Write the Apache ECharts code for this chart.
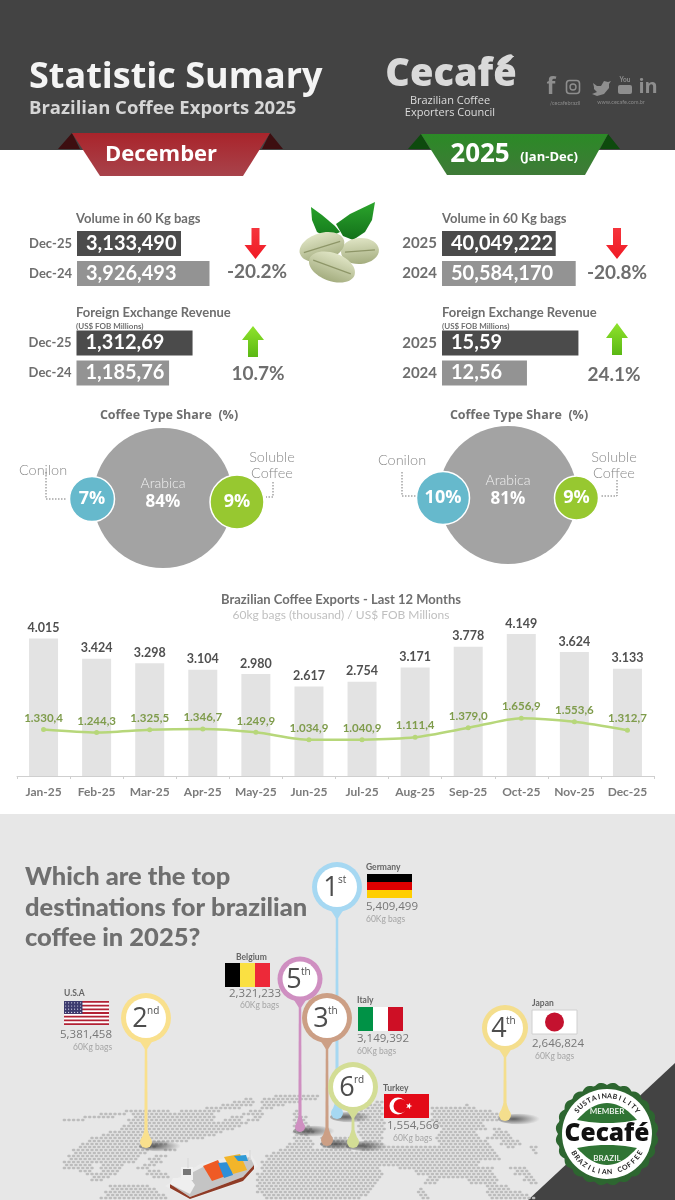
<!DOCTYPE html>
<html>
<head>
<meta charset="utf-8">
<title>Statistic Sumary</title>
<script src="https://cdn.jsdelivr.net/npm/echarts@6/dist/echarts.min.js"></script>
<style>
  html, body { margin: 0; padding: 0; background: #fff; }
  #chart { width: 675px; height: 1200px; }
</style>
</head>
<body>
<div id="chart"></div>
<script>
// last 12 months
const months = ['Jan-25', 'Feb-25', 'Mar-25', 'Apr-25', 'May-25', 'Jun-25', 'Jul-25', 'Aug-25', 'Sep-25', 'Oct-25', 'Nov-25', 'Dec-25'];
const monthlyBags = [4015, 3424, 3298, 3104, 2980, 2617, 2754, 3171, 3778, 4149, 3624, 3133];
const monthlyRevenue = [1330.4, 1244.3, 1325.5, 1346.7, 1249.9, 1034.9, 1040.9, 1111.4, 1379.0, 1656.9, 1553.6, 1312.7];

// headline numbers
const decPeriods = ['Dec-25', 'Dec-24'];
const yearPeriods = ['2025', '2024'];
const decVolume = [3133490, 3926493];
const decVolumeLabels = ['3,133,490', '3,926,493'];
const decRevenue = [1312.69, 1185.76];
const decRevenueLabels = ['1,312,69', '1,185,76'];
const yearVolume = [40049222, 50584170];
const yearVolumeLabels = ['40,049,222', '50,584,170'];
const yearRevenue = [15.59, 12.56];
const yearRevenueLabels = ['15,59', '12,56'];

// coffee type share (%)
const shareTypes = ['Arabica', 'Conilon', 'Soluble Coffee'];
const decShare = [84, 7, 9];
const yearShare = [81, 10, 9];

// top destinations
const destinations = ['Germany', 'U.S.A', 'Italy', 'Japan', 'Belgium', 'Turkey'];
const destinationBags = ['5,409,499', '5,381,458', '3,149,392', '2,646,824', '2,321,233', '1,554,566'];
const destinationRanks = ['1', '2', '3', '4', '5', '6'];
const rankSuffix = ['st', 'nd', 'th', 'th', 'th', 'rd'];

const SANS = 'Lato, "Noto Sans", sans-serif';
const OPEN = '"Open Sans", "Noto Sans", sans-serif';
const G = echarts.graphic;

function T(x, y, text, size, color, opt) {
  opt = opt || {};
  return {
    type: 'text', x: x, y: y, rotation: opt.rotation || 0, z: opt.z || 0,
    style: {
      text: text, fontSize: size, fontWeight: opt.weight || 'normal', fontFamily: opt.family || SANS,
      fill: color, align: opt.align || 'left', verticalAlign: 'middle'
    }
  };
}
function poly(points, fill, z) { return { type: 'polygon', z: z || 0, shape: { points: points }, style: { fill: fill } }; }
function rect(x, y, w, h, fill, z) { return { type: 'rect', z: z || 0, shape: { x: x, y: y, width: w, height: h }, style: { fill: fill } }; }
function circle(cx, cy, r, fill, z) { return { type: 'circle', z: z || 0, shape: { cx: cx, cy: cy, r: r }, style: { fill: fill } }; }
function ellipse(cx, cy, rx, ry, fill, rot, z) {
  return { type: 'ellipse', z: z || 0, x: cx, y: cy, rotation: rot || 0, shape: { cx: 0, cy: 0, rx: rx, ry: ry }, style: { fill: fill } };
}
function dotted(points) {
  return { type: 'polyline', shape: { points: points }, style: { stroke: '#777', lineWidth: 1, lineDash: [1.5, 1.5], fill: null } };
}
function vgrad(a, b) { return new G.LinearGradient(0, 0, 0, 1, [{ offset: 0, color: a }, { offset: 1, color: b }]); }
// lens shape for the green bands of the badge
function lens(x0, x1, yEnd, yTop, yBottom, fill) {
  const pts = [];
  for (let t = 0; t <= 1; t += 0.05) pts.push([x0 + (x1 - x0) * t, yEnd + (yTop - yEnd) * 4 * t * (1 - t)]);
  for (let t = 1; t >= 0; t -= 0.05) pts.push([x0 + (x1 - x0) * t, yEnd + (yBottom - yEnd) * 4 * t * (1 - t)]);
  return poly(pts, fill);
}

const els = [];

// ---- page background
els.push(rect(0, 0, 675, 150, '#434343'));
els.push(rect(0, 814, 675, 386, '#e7e7e7'));
els.push(poly([[675, 1063], [675, 1200], [528, 1200]], '#434343'));

// ---- header
els.push(T(29, 78, 'Statistic Sumary', 36, '#f4f4f4', { weight: 'bold', family: OPEN }));
els.push(T(29, 109, 'Brazilian Coffee Exports 2025', 18.5, '#d6d6d6', { weight: 'bold', family: OPEN }));
els.push(T(451, 75, 'Cecafé', 38, '#d9d9d9', { weight: 800, family: OPEN, align: 'center' }));
els.push(ellipse(505, 60, 9, 3.5, '#d9d9d9', 0.6));
els.push(T(450, 101, 'Brazilian Coffee', 11, '#dcdcdc', { align: 'center', family: OPEN }));
els.push(T(450, 113, 'Exporters Council', 11, '#dcdcdc', { align: 'center', family: OPEN }));
const socialColor = '#8e8e8e';
els.push(T(551, 87, 'f', 23, socialColor, { weight: 'bold', align: 'center', family: OPEN }));
els.push({ type: 'rect', shape: { x: 566.5, y: 80.5, width: 13, height: 13, r: 3 }, style: { fill: null, stroke: socialColor, lineWidth: 1.6 } });
els.push({ type: 'circle', shape: { cx: 573, cy: 87, r: 3 }, style: { fill: null, stroke: socialColor, lineWidth: 1.4 } });
els.push(poly([[593, 83], [597, 86], [601, 86], [604, 81], [608, 82], [611, 81], [609, 84], [609, 88], [604, 94], [597, 96], [592, 94], [597, 92], [594, 89], [594, 87]], socialColor));
els.push(T(625, 80, 'You', 6.5, socialColor, { weight: 'bold', align: 'center' }));
els.push({ type: 'rect', shape: { x: 618, y: 85, width: 14, height: 9, r: 2 }, style: { fill: socialColor } });
els.push(T(648, 87, 'in', 20, socialColor, { weight: 'bold', align: 'center', family: OPEN }));
els.push(T(565, 103, '/cecafebrazil', 5.5, '#8a8a8a', { align: 'center' }));
els.push(T(621, 102, 'www.cecafe.com.br', 5.5, '#8a8a8a', { align: 'center' }));

// ---- ribbons
els.push(poly([[58, 149], [72, 133], [80, 149]], '#3d0e10'));
els.push(poly([[283, 149], [270, 133], [262, 149]], '#3d0e10'));
els.push(poly([[72, 133], [270, 133], [243, 176], [100, 176]], vgrad('#a9242b', '#a8434b')));
els.push(T(161, 155, 'December', 22, '#fff', { weight: 'bold', align: 'center', family: OPEN }));
els.push(poly([[408, 149], [421, 134], [430, 149]], '#0d4a0d'));
els.push(poly([[620, 149], [608, 134], [600, 149]], '#0d4a0d'));
els.push(poly([[421, 134], [608, 134], [585, 175], [447, 175]], vgrad('#2b8a26', '#3f7a38')));
els.push(T(480, 155, '2025', 26, '#fff', { weight: 'bold', align: 'center', family: OPEN }));
els.push(T(549, 157, '(Jan-Dec)', 13, '#fff', { weight: 'bold', align: 'center', family: OPEN }));

// ---- KPI titles, arrows, percentages
const titleColor = '#6e6e6e';
[76, 442].forEach(function (x) {
  els.push(T(x, 219, 'Volume in 60 Kg bags', 13, titleColor, { weight: 'bold' }));
  els.push(T(x, 313, 'Foreign Exchange Revenue', 13, titleColor, { weight: 'bold' }));
  els.push(T(x, 326, '(US$ FOB Millions)', 8, titleColor, { weight: 'bold' }));
});
function arrowDown(cx) {
  return poly([[cx - 4, 228], [cx + 4, 228], [cx + 4, 245], [cx + 11, 245], [cx, 259], [cx - 11, 245], [cx - 4, 245]], vgrad('#f5343c', '#f01a25'));
}
function arrowUp(cx, top, base, bottom) {
  return poly([[cx, top], [cx + 11, base], [cx + 5, base], [cx + 5, bottom], [cx - 5, bottom], [cx - 5, base], [cx - 11, base]], vgrad('#8fe32c', '#5bb814'));
}
els.push(arrowDown(255.5), arrowDown(617), arrowUp(253, 326, 340, 357), arrowUp(617, 323, 338, 355));
els.push(T(257, 272, '-20.2%', 19, titleColor, { weight: 'bold', align: 'center' }));
els.push(T(258, 374, '10.7%', 19, titleColor, { weight: 'bold', align: 'center' }));
els.push(T(617, 273, '-20.8%', 19, titleColor, { weight: 'bold', align: 'center' }));
els.push(T(614, 375, '24.1%', 19, titleColor, { weight: 'bold', align: 'center' }));

// ---- coffee beans
els.push(poly([[311, 207], [322, 215], [335, 226], [340, 232], [328, 238], [317, 232], [312, 220]], vgrad('#27a02a', '#157a1c')));
els.push(poly([[375, 202], [372, 220], [365, 232], [353, 240], [343, 236], [336, 224], [350, 214]], vgrad('#2ba52c', '#13701a')));
function bean(cx, cy, rx, ry, rot) {
  els.push(ellipse(cx, cy, rx, ry, vgrad('#dfe4c4', '#a4ad7f'), rot));
  els.push({ type: 'line', x: cx, y: cy, rotation: rot, shape: { x1: -rx + 4, y1: 0, x2: rx - 4, y2: 0 }, style: { stroke: '#8e9668', lineWidth: 1.2 } });
}
bean(360, 251, 19, 13, 0.08);
bean(322, 247, 23, 14, 0.3);
bean(332, 267, 24, 14, -0.35);

// ---- coffee type share
els.push(T(169, 415, 'Coffee Type Share  (%)', 12.5, titleColor, { weight: 'bold', align: 'center', family: OPEN }));
els.push(T(519, 415, 'Coffee Type Share  (%)', 12.5, titleColor, { weight: 'bold', align: 'center', family: OPEN }));
const thinColor = '#8a8a8a';
const thin = { align: 'center', weight: 300 };
els.push(T(43, 470, 'Conilon', 14.5, thinColor, thin));
els.push(T(272, 457, 'Soluble', 14.5, thinColor, thin));
els.push(T(272, 473, 'Coffee', 14.5, thinColor, thin));
els.push(T(402, 460, 'Conilon', 14.5, thinColor, thin));
els.push(T(614, 457, 'Soluble', 14.5, thinColor, thin));
els.push(T(614, 473, 'Coffee', 14.5, thinColor, thin));
els.push(dotted([[46, 472], [46, 499], [67, 499]]));
els.push(dotted([[273, 482], [273, 497], [266, 497]]));
els.push(dotted([[402, 472], [402, 496], [417, 496]]));
els.push(dotted([[617, 480], [617, 496], [600, 496]]));

// ---- monthly chart heading
els.push(T(341, 600, 'Brazilian Coffee Exports - Last 12 Months', 13, '#6f6f6f', { weight: 'bold', align: 'center' }));
els.push(T(341, 615, '60kg bags (thousand) / US$ FOB Millions', 12, '#c0c0c0', { align: 'center' }));

// ---- destinations heading
['Which are the top', 'destinations for brazilian', 'coffee in 2025?'].forEach(function (line, i) {
  els.push(T(25, 877 + i * 30.5, line, 25.5, '#6f6f6f', { weight: 900 }));
});

// ---- dotted world map: [row y, [from, to], [from, to] ...]
const mapRows = [
  [1096, [275, 320]],
  [1099, [240, 252], [258, 318]],
  [1102, [232, 256], [262, 300], [377, 384]],
  [1105, [218, 252], [262, 285], [357, 384], [463, 470]],
  [1108, [205, 240], [262, 272], [357, 384], [430, 477]],
  [1111, [120, 170], [178, 222], [244, 262], [290, 300], [357, 384], [430, 490]],
  [1114, [100, 125], [130, 215], [240, 265], [290, 302], [357, 384], [430, 497]],
  [1117, [80, 115], [130, 218], [228, 245], [250, 262], [290, 306], [357, 384], [430, 503]],
  [1120, [63, 85], [125, 215], [222, 240], [246, 258], [291, 308], [357, 384], [432, 500]],
  [1123, [128, 248], [292, 310], [357, 386], [433, 483]],
  [1126, [122, 240], [292, 312], [358, 386], [435, 485]],
  [1129, [118, 235], [292, 314], [358, 386], [437, 487], [490, 503]],
  [1132, [108, 225], [292, 314], [358, 384], [440, 478], [493, 510]],
  [1135, [100, 215], [293, 307], [358, 384], [436, 480], [490, 512]],
  [1138, [92, 205], [292, 310], [322, 350], [362, 384], [433, 483], [487, 513]],
  [1141, [87, 190], [290, 313], [318, 350], [360, 384], [436, 486], [497, 522]],
  [1144, [82, 170], [288, 313], [320, 350], [360, 386], [437, 490], [498, 524]],
  [1147, [78, 155], [283, 313], [322, 350], [360, 490], [503, 517], [527, 537]],
  [1150, [73, 150], [165, 175], [280, 350], [360, 493], [530, 538]],
  [1153, [70, 146], [270, 497], [530, 540]],
  [1156, [68, 142], [155, 168], [266, 500]],
  [1159, [65, 140], [147, 160], [263, 503]],
  [1162, [62, 135], [150, 162], [262, 483]],
  [1165, [60, 92], [98, 125], [140, 155], [261, 480]],
  [1168, [62, 93], [97, 123], [137, 150], [260, 380], [397, 493], [510, 527]],
  [1171, [75, 92], [100, 118], [143, 160], [258, 382], [410, 493], [513, 528]],
  [1174, [87, 117], [143, 170], [256, 384], [417, 494], [515, 530]],
  [1177, [90, 112], [150, 170], [254, 384], [427, 497], [520, 532]],
  [1180, [90, 103], [253, 380], [425, 440], [467, 497], [522, 534]],
  [1183, [253, 375], [420, 436], [467, 497], [527, 537]],
  [1186, [110, 150], [253, 374], [483, 507]],
  [1189, [108, 155], [253, 372], [416, 424], [483, 510]],
  [1192, [104, 160], [255, 370], [417, 424], [487, 520]],
  [1195, [102, 165], [260, 366], [418, 426], [487, 528]],
  [1198, [100, 167], [263, 362], [420, 428], [490, 535]]
];
mapRows.forEach(function (row, i) {
  const shift = i % 2 ? 2.3 : 0;
  const y = row[0];
  row.slice(1).forEach(function (span) {
    // each dot sits on the same 4.6px lattice so the spans line up
    for (let x = Math.ceil(span[0] / 4.6) * 4.6 + shift; x <= span[1]; x += 4.6) {
      els.push(poly([[x - 2, y], [x - 1, y - 1.2], [x + 1, y - 1.2], [x + 2, y], [x + 1, y + 1.2], [x - 1, y + 1.2]], '#bcbcbc'));
    }
  });
});

// ---- ship
els.push(poly([[165, 1186], [200, 1164], [250, 1152], [258, 1166], [243, 1182], [190, 1200]], '#ececec'));
els.push(poly([[170, 1184], [203, 1167], [250, 1157], [254, 1165], [243, 1177], [190, 1197]], '#c4c4c4'));
els.push(poly([[170, 1184], [190, 1197], [243, 1177], [254, 1165], [254, 1169], [243, 1181], [190, 1199], [170, 1188]], '#8f3b26'));
els.push(poly([[170, 1184], [173, 1178], [190, 1178], [195, 1185], [190, 1194]], '#efefef'));
els.push(rect(181, 1167, 12, 13, '#f0f0f0'));
els.push(rect(183, 1169, 8, 6, '#777'));
els.push(poly([[203, 1166], [218, 1160], [226, 1176], [212, 1181]], '#ef5a24'));
els.push(poly([[218, 1163], [230, 1162], [233, 1175], [224, 1178]], '#2f8fd8'));
els.push(poly([[224, 1157], [240, 1154], [247, 1170], [233, 1174]], '#f2b52a'));
els.push(poly([[234, 1156], [246, 1155], [248, 1161], [238, 1161]], '#2f9ad6'));
els.push({ type: 'line', shape: { x1: 188, y1: 1158, x2: 188, y2: 1168 }, style: { stroke: '#ddd', lineWidth: 1.5 } });
els.push({ type: 'line', shape: { x1: 250, y1: 1150, x2: 250, y2: 1160 }, style: { stroke: '#ddd', lineWidth: 1.5 } });

// ---- flags
function flagGermany(x, y, w, h) {
  return [rect(x, y, w, h / 3, '#000'), rect(x, y + h / 3, w, h / 3, '#dd0000'), rect(x, y + 2 * h / 3, w, h / 3, '#ffce00')];
}
function flagBelgium(x, y, w, h) {
  return [rect(x, y, w / 3, h, '#000'), rect(x + w / 3, y, w / 3, h, '#fae042'), rect(x + 2 * w / 3, y, w / 3, h, '#ed2939')];
}
function flagItaly(x, y, w, h) {
  return [rect(x, y, w / 3, h, '#009246'), rect(x + w / 3, y, w / 3, h, '#fff'), rect(x + 2 * w / 3, y, w / 3, h, '#ce0f25')];
}
function flagUsa(x, y, w, h) {
  const out = [rect(x, y, w, h, '#fff')];
  for (let i = 0; i < 7; i++) out.push(rect(x, y + i * 2 * h / 13, w, h / 13, '#b22234'));
  out.push(rect(x, y, w * 0.41, h * 7 / 13, '#3c3b6e'));
  for (let r = 0; r < 4; r++) for (let c = 0; c < 6; c++) out.push(circle(x + 1.6 + c * 3, y + 1.8 + r * 3.2, 0.6, '#d8d8ea'));
  return out;
}
function flagJapan(x, y, w, h) {
  const bg = rect(x, y, w, h, '#fff');
  bg.style.stroke = '#d0d0d0';
  return [bg, circle(x + w / 2, y + h / 2, 9.5, '#c4122f')];
}
function flagTurkey(x, y, w, h) {
  const star = [];
  for (let i = 0; i < 10; i++) {
    const a = i * Math.PI / 5, r = i % 2 ? 1.4 : 3.4;
    star.push([x + 25 + r * Math.cos(a), y + h / 2 + r * Math.sin(a)]);
  }
  return [rect(x, y, w, h, '#e30a17'), circle(x + 14, y + h / 2, 8.5, '#fff'), circle(x + 16.5, y + h / 2, 7, '#e30a17'), poly(star, '#fff')];
}

// ---- pins, in drawing order (later ones overlap earlier ones)
const pinLayout = {
  '1': { x: 337, y: 887, r: 25, dropY: 1113, dropR: 6, color: '#a6d8f2', flag: flagGermany, fx: 367, fy: 874, nameX: 366, nameY: 867, valX: 366, valY: 907, bagX: 366, bagY: 919 },
  '2': { x: 146, y: 1018, r: 25, dropY: 1142, dropR: 6, color: '#f9e08d', flag: flagUsa, fx: 64, fy: 1001, nameX: 64, nameY: 993, valX: 60, valY: 1035, bagX: 73, bagY: 1047 },
  '5': { x: 300, y: 979, r: 22.5, dropY: 1127, dropR: 5, color: '#cf8fc1', flag: flagBelgium, fx: 225, fy: 963, nameX: 236, nameY: 957, valX: 229, valY: 993.5, bagX: 240, bagY: 1005 },
  '3': { x: 327, y: 1018, r: 25, dropY: 1140, dropR: 6, color: '#cc9f85', flag: flagItaly, fx: 358, fy: 1007, nameX: 357, nameY: 1000, valX: 357, valY: 1039, bagX: 357, bagY: 1051 },
  '6': { x: 353, y: 1087, r: 25, dropY: 1142, dropR: 6, color: '#d3dd95', flag: flagTurkey, fx: 384, fy: 1094, nameX: 383, nameY: 1088, valX: 387, valY: 1126, bagX: 393, bagY: 1138 },
  '4': { x: 505, y: 1028, r: 23, dropY: 1115, dropR: 6, color: '#f4de8d', flag: flagJapan, fx: 532, fy: 1010, nameX: 532, nameY: 1003, valX: 532, valY: 1044, bagX: 535, bagY: 1056 }
};
['1', '2', '5', '3', '6', '4'].forEach(function (rank) {
  const i = destinationRanks.indexOf(rank);
  const p = pinLayout[rank];
  // shadow on the map
  els.push({
    type: 'circle', x: p.x + 15, y: p.dropY + 4, scaleY: 0.24, shape: { cx: 0, cy: 0, r: 22 },
    style: { fill: new G.RadialGradient(0.35, 0.5, 0.6, [{ offset: 0, color: 'rgba(50,50,50,0.75)' }, { offset: 1, color: 'rgba(50,50,50,0)' }]) }
  });
  els.push(poly([[p.x - 1.2, p.y + p.r - 2], [p.x + 1.2, p.y + p.r - 2], [p.x + 1.6, p.dropY - p.dropR], [p.x - 1.6, p.dropY - p.dropR]], p.color));
  els.push(poly([[p.x - 1.3, p.dropY - p.dropR - 6], [p.x + 1.3, p.dropY - p.dropR - 6], [p.x + p.dropR - 1, p.dropY - 2], [p.x - p.dropR + 1, p.dropY - 2]], p.color));
  els.push(circle(p.x, p.dropY, p.dropR, p.color));
  els.push(circle(p.x, p.y, p.r, p.color));
  els.push(poly([[p.x - 7, p.y + p.r - 3], [p.x + 7, p.y + p.r - 3], [p.x + 1.2, p.y + p.r + 6], [p.x - 1.2, p.y + p.r + 6]], p.color));
  els.push(circle(p.x, p.y, p.r - 5, '#fff'));
  els.push(T(p.x - 6, p.y + 1, rank, 27, '#4d4d4d', { align: 'center', family: OPEN }));
  els.push(T(p.x + 1, p.y - 7, rankSuffix[i], 10, '#4d4d4d', { family: OPEN }));
  p.flag(p.fx, p.fy, 45, 24).forEach(function (e) { els.push(e); });
  els.push(T(p.nameX, p.nameY, destinations[i], 8.5, '#666', { weight: 'bold' }));
  els.push(T(p.valX, p.valY, destinationBags[i], 11.5, '#777', { family: OPEN }));
  els.push(T(p.bagX, p.bagY, '60Kg bags', 8.5, '#a5a5a5'));
});

// ---- member badge
const bx = 607, by = 1134;
const scallop = [];
for (let d = 0; d < 360; d += 2) {
  const a = d * Math.PI / 180;
  const r = 49 + 2.5 * Math.abs(Math.sin(d * Math.PI / 15));
  scallop.push([bx + r * Math.sin(a), by - r * Math.cos(a)]);
}
els.push(poly(scallop, '#2d6630'));
els.push(circle(bx, by, 45, '#fff'));
els.push(lens(bx - 30, bx + 30, by - 14, by - 31, by - 11, '#2f7434'));
els.push(lens(bx - 30, bx + 30, by + 14, by + 11, by + 31, '#2f7434'));
els.push(T(bx, by - 23, 'MEMBER', 8, '#e8efe8', { weight: 'bold', align: 'center' }));
els.push(T(bx, by + 24, 'BRAZIL', 8, '#e8efe8', { weight: 'bold', align: 'center' }));
els.push(T(bx, by, 'Cecafé', 24.5, '#111', { weight: 800, align: 'center', family: OPEN }));
function arcText(text, radius, startDeg, stepDeg, bottom) {
  text.split('').forEach(function (ch, i) {
    const deg = startDeg + i * stepDeg;
    const a = deg * Math.PI / 180;
    const rot = bottom ? Math.PI - a : -a;
    els.push(T(bx + radius * Math.sin(a), by - radius * Math.cos(a), ch, 7, '#222', { weight: 'bold', align: 'center', rotation: rot }));
  });
}
arcText('SUSTAINABILITY', 38, -52, 8);
arcText('BRAZILIAN COFFEE', 38, 240, -8, true);

// ---- series and axes
function kpiGrid(left, top, width) { return { left: left, top: top, width: width, height: 60 }; }
const kpiSpec = [
  { grid: kpiGrid(77, 228.5, 140), cats: decPeriods, data: decVolume, labels: decVolumeLabels, min: 240000, max: 4135000, labelSize: 13 },
  { grid: kpiGrid(76.5, 328, 120), cats: decPeriods, data: decRevenue, labels: decRevenueLabels, min: 685.6, max: 1334, labelSize: 13 },
  { grid: kpiGrid(442, 228.5, 140), cats: yearPeriods, data: yearVolume, labels: yearVolumeLabels, min: 10600000, max: 54450000, type: 'log', labelSize: 15 },
  { grid: kpiGrid(442, 328, 140), cats: yearPeriods, data: yearRevenue, labels: yearRevenueLabels, min: 7.56, max: 15.8, labelSize: 15 }
];
const grids = [], xAxes = [], yAxes = [], series = [];
kpiSpec.forEach(function (k, i) {
  grids.push(k.grid);
  xAxes.push({ gridIndex: i, type: k.type || 'value', min: k.min, max: k.max, show: false });
  yAxes.push({
    gridIndex: i, type: 'category', data: k.cats, inverse: true,
    axisLine: { show: false }, axisTick: { show: false }, splitLine: { show: false },
    axisLabel: { margin: 5, fontSize: k.labelSize, fontWeight: 'bold', fontFamily: SANS, color: '#6e6e6e' }
  });
  series.push({
    type: 'bar', xAxisIndex: i, yAxisIndex: i, barWidth: 25, animation: false,
    data: k.data.map(function (v, n) { return { value: v, itemStyle: { color: n === 0 ? '#4b4b4b' : '#939393' } }; }),
    label: {
      show: true, position: 'insideLeft', distance: 9, color: '#fff', fontSize: 20, fontWeight: 'bold', fontFamily: SANS,
      formatter: function (p) { return k.labels[p.dataIndex]; }
    }
  });
});

// monthly chart
const MONTH = kpiSpec.length;
grids.push({ left: 17, top: 622, width: 637, height: 154 });
xAxes.push({
  gridIndex: MONTH, type: 'category', data: months,
  axisLine: { lineStyle: { color: '#cfcfcf' } },
  axisTick: { show: true, length: 3, lineStyle: { color: '#cfcfcf' } },
  axisLabel: { margin: 10, interval: 0, fontSize: 12, fontWeight: 'bold', fontFamily: SANS, color: '#7b7b7b' }
});
yAxes.push({ gridIndex: MONTH, type: 'value', min: 0, max: 4500, show: false });
yAxes.push({ gridIndex: MONTH, type: 'value', min: 0, max: 4410, show: false });
const monthY = yAxes.length - 2;
function dotThousands(n, digits) {
  const parts = n.toFixed(digits).split('.');
  const head = parts[0].replace(/\B(?=(\d{3})+$)/g, '.');
  return digits ? head + ',' + parts[1] : head;
}
series.push({
  name: '60kg bags (thousand)', type: 'bar', xAxisIndex: MONTH, yAxisIndex: monthY, barWidth: 29, animation: false,
  data: monthlyBags, itemStyle: { color: '#e3e3e3' },
  label: {
    show: true, position: 'top', distance: 4, color: '#505050', fontSize: 12.5, fontWeight: 'bold', fontFamily: SANS,
    formatter: function (p) { return dotThousands(p.value, 0); }
  }
});
series.push({
  name: 'US$ FOB Millions', type: 'line', xAxisIndex: MONTH, yAxisIndex: monthY + 1, smooth: 0.25, animation: false,
  data: monthlyRevenue, symbol: 'circle', symbolSize: 5,
  lineStyle: { color: '#b7d77a', width: 2.5 }, itemStyle: { color: '#b7d77a' },
  label: {
    show: true, position: 'top', distance: 3, color: '#7f9c4c', fontSize: 11.5, fontWeight: 'bold', fontFamily: SANS,
    formatter: function (p) { return dotThousands(p.value, 1); }
  }
});

// share bubbles sit on a hidden page-sized scatter grid
const PAGE = grids.length;
grids.push({ left: 0, top: 0, width: 675, height: 1200 });
xAxes.push({ gridIndex: PAGE, type: 'value', min: 0, max: 675, show: false });
yAxes.push({ gridIndex: PAGE, type: 'value', min: 0, max: 1200, inverse: true, show: false });
const bubbleColors = ['#a3a3a3', '#66b9cc', '#97c830'];
function bubbleSeries(shares, layout) {
  return {
    type: 'scatter', xAxisIndex: PAGE, yAxisIndex: yAxes.length - 1, animation: false, silent: true,
    data: shares.map(function (v, i) {
      const l = layout[i];
      return {
        name: shareTypes[i], value: [l.x, l.y, v], symbolSize: l.d,
        itemStyle: { color: bubbleColors[i], opacity: 1, borderColor: i ? '#fff' : 'transparent', borderWidth: i ? 1.5 : 0 },
        label: {
          show: true, position: 'inside', offset: i ? [0, 0] : [0, -5],
          formatter: i ? v + '%' : '{a|Arabica}\n{b|' + v + '%}',
          color: '#fff', fontSize: 18, fontWeight: 'bold', fontFamily: OPEN,
          rich: {
            a: { color: '#f0f0f0', fontSize: 14, fontWeight: 300, fontFamily: SANS, lineHeight: 19 },
            b: { color: '#fff', fontSize: 17, fontWeight: 'bold', fontFamily: OPEN, lineHeight: 19 }
          }
        }
      };
    })
  };
}
series.push(bubbleSeries(decShare, [{ x: 163, y: 498, d: 140 }, { x: 92, y: 499, d: 45 }, { x: 237, y: 502, d: 54 }]));
series.push(bubbleSeries(yearShare, [{ x: 508, y: 495, d: 138 }, { x: 443, y: 498, d: 53 }, { x: 576.5, y: 498, d: 44 }]));

const chart = echarts.init(document.getElementById('chart'));
chart.setOption({
  backgroundColor: '#fff',
  animation: false,
  grid: grids,
  xAxis: xAxes,
  yAxis: yAxes,
  series: series,
  graphic: { elements: els }
});
</script>
</body>
</html>
